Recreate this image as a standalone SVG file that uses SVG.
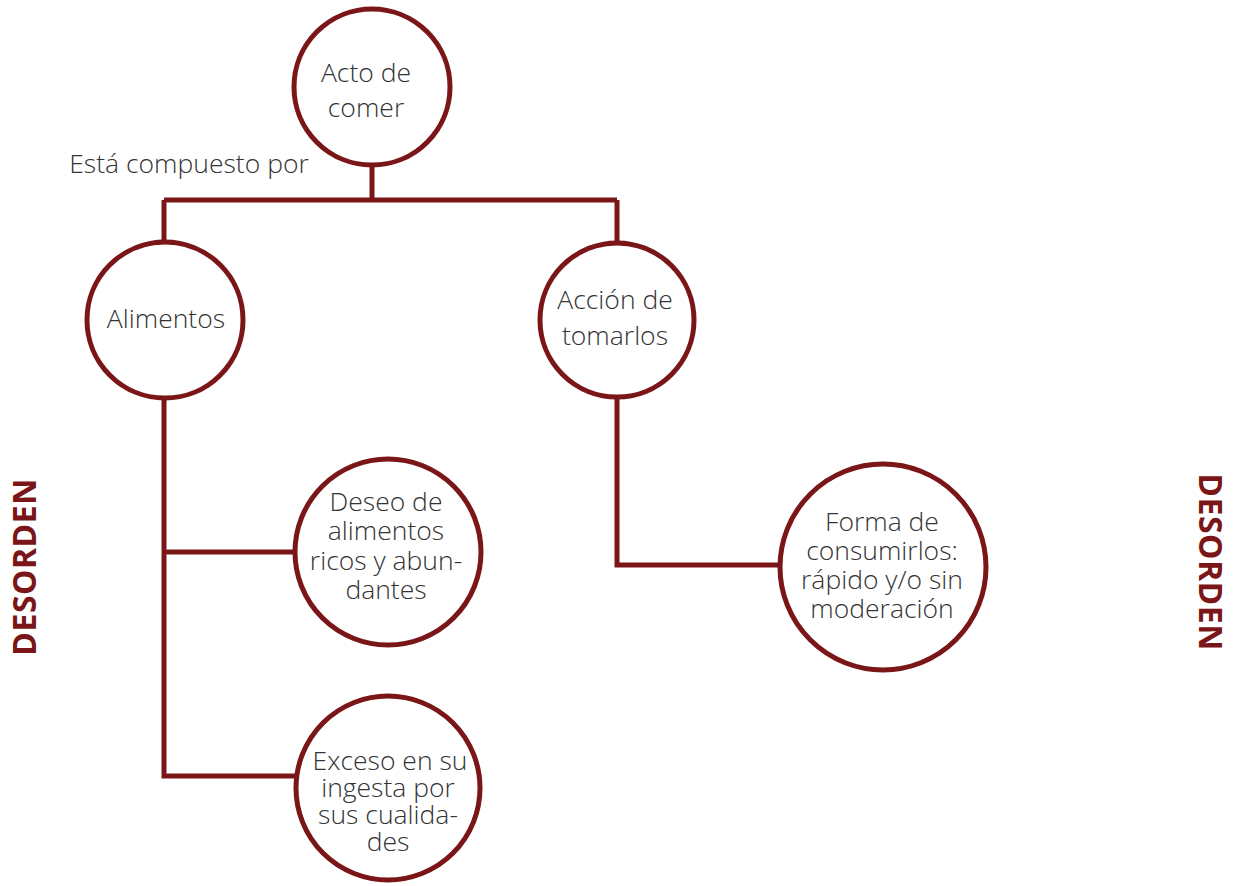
<svg xmlns="http://www.w3.org/2000/svg" width="1241" height="886" viewBox="0 0 1241 886">
<style>
.node{fill:#fff;stroke:#7a1618;stroke-width:5}
.conn{fill:none;stroke:#7a1618;stroke-width:5}
.t{font-family:"Open Sans","Liberation Sans",sans-serif;font-weight:300;font-size:26.5px;fill:#333;text-anchor:middle}
.side{font-family:"Open Sans","Liberation Sans",sans-serif;font-weight:700;font-size:32px;fill:#7a1618;text-anchor:middle;letter-spacing:0.5px}
</style>
<rect width="1241" height="886" fill="#fff"/>
<g id="connectors">
<path class="conn" d="M372 166V200M164 200H617M164 200V242M617 200V242"/>
<path class="conn" d="M164 398V776H296M164 552H295"/>
<path class="conn" d="M617 397V565H780"/>
</g>
<g id="acto"><circle class="node" cx="372" cy="87" r="78"/><text class="t" x="366" y="82">Acto de</text><text class="t" x="366" y="117">comer</text></g>
<text class="t" x="189" y="173">Está compuesto por</text>
<g id="alimentos"><circle class="node" cx="165" cy="320" r="78"/><text class="t" x="166" y="328">Alimentos</text></g>
<g id="accion"><circle class="node" cx="617" cy="320" r="77"/><text class="t" x="615" y="309">Acción de</text><text class="t" x="615" y="345">tomarlos</text></g>
<g id="deseo"><circle class="node" cx="388" cy="552" r="93"/><text class="t" x="386" y="511">Deseo de</text><text class="t" x="386" y="540">alimentos</text><text class="t" x="386" y="570">ricos y abun-</text><text class="t" x="386" y="599">dantes</text></g>
<g id="exceso"><circle class="node" cx="388" cy="788" r="92"/><text class="t" x="390" y="770">Exceso en su</text><text class="t" x="388" y="797">ingesta por</text><text class="t" x="388" y="824">sus cualida-</text><text class="t" x="388" y="851">des</text></g>
<g id="forma"><circle class="node" cx="883" cy="567" r="103"/><text class="t" x="882" y="531">Forma de</text><text class="t" x="882" y="560">consumirlos:</text><text class="t" x="882" y="589">rápido y/o sin</text><text class="t" x="882" y="618">moderación</text></g>
<text class="side" transform="translate(36 567) rotate(-90)">DESORDEN</text>
<text class="side" transform="translate(1199 562) rotate(90)">DESORDEN</text>
</svg>
